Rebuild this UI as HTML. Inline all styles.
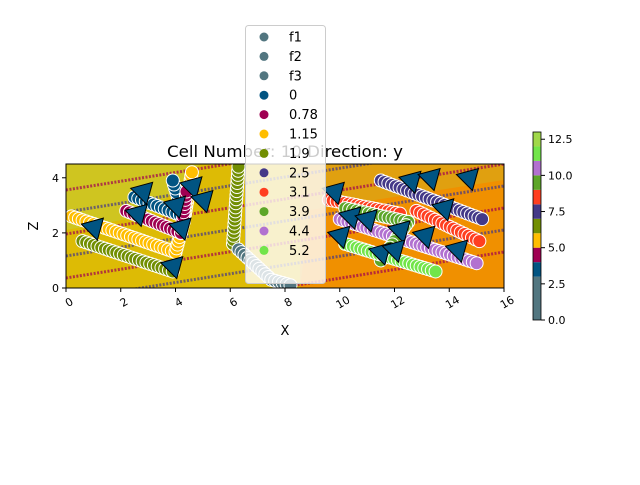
<!DOCTYPE html>
<html><head><meta charset="utf-8"><style>
body{margin:0;background:#fff}
svg{font-family:"DejaVu Sans","Liberation Sans",sans-serif}
</style></head><body>
<svg id="c" width="640" height="480" xmlns="http://www.w3.org/2000/svg">
<defs><clipPath id="clip"><rect x="66" y="164" width="438" height="124"/></clipPath></defs>
<g id="plot" clip-path="url(#clip)"></g>
<rect x="66" y="164" width="438" height="124" fill="none" stroke="#000" stroke-width="1"/>
<g id="axes"></g>
<text x="285" y="157" font-size="16" text-anchor="middle" textLength="236" lengthAdjust="spacingAndGlyphs">Cell Number: 10 Direction: y</text>
<text x="285" y="335" font-size="13" text-anchor="middle">X</text>
<text x="38" y="226" font-size="13" text-anchor="middle" transform="rotate(-90 38 226)">Z</text>
<g id="legend"></g>
<g id="cbar"></g>
</svg>
<script>
const xTicks=[0,2,4,6,8,10,12,14,16];
const yTicks=[0,2,4];
const legendLabels=["f1","f2","f3","0","0.78","1.15","1.9","2.5","3.1","3.9","4.4","5.2"];
const legendColors=["#527680","#527680","#527680","#015482","#9f0052","#ffbe00","#728f02","#443988","#ff3f20","#5da629","#b271d0","#72e54a"];
const cbarValues=[0,3,4,5,6,7,8,9,10,11,12,13];
const cbarColors=["#527680","#015482","#9f0052","#ffbe00","#728f02","#443988","#ff3f20","#5da629","#b271d0","#72e54a","#a0d84a"];
const cbarTicks=[0,2.5,5,7.5,10,12.5];
const seriesColors=["#ffbe00","#015482","#9f0052","#728f02","#728f02","#527680","#ff3f20","#ff3f20","#443988","#b271d0","#5da629","#72e54a"];
const seriesPaths=[
 [[0.2,2.6],[4,1.3],[4.3,2.4],[4.6,4.2]],
 [[2.5,3.3],[4.3,2.6],[3.9,3.9]],
 [[2.2,2.8],[4.2,2.0],[4.4,3.5]],
 [[0.6,1.7],[3.9,0.6]],
 [[6.1,1.6],[6.3,4.4]],
 [[6.3,1.4],[7.5,0.3],[8.2,0.1]],
 [[9.6,3.2],[12.2,2.7]],
 [[12.8,2.8],[15.1,1.7]],
 [[11.5,3.9],[15.2,2.5]],
 [[10.0,2.5],[15.0,0.9]],
 [[10.2,2.9],[12.5,2.4],[11.5,1.0]],
 [[10.2,1.6],[13.5,0.6]]
];
const arrowX=[1.0,2.8,3.9,4.6,5.0,4.2,2.6,9.8,10.0,12.6,13.3,14.7,13.8,12.2,10.4,11.5,12.0,13.1,14.3,11.0,4.0];
const arrowZ=[2.1,3.4,0.7,3.6,3.1,2.1,2.6,3.4,1.8,3.8,3.9,3.9,2.8,2.0,2.5,1.2,1.3,1.8,1.3,2.4,2.9];
const NS="http://www.w3.org/2000/svg";
const px=x=>66+x*438/16, py=z=>288-z*124/4.5;
function mk(t,a,p){const e=document.createElementNS(NS,t);for(const k in a)e.setAttribute(k,a[k]);(p||document.getElementById('plot')).appendChild(e);return e;}
let bg=mk('rect',{x:66,y:164,width:438,height:124,fill:'#e0a010'});
let p1=mk('polygon',{points:"66,164 300,164 300,288 66,288",fill:'#ddbb05'});
let p2=mk('polygon',{points:"66,164 200,164 150,215 66,230",fill:'#cfc520'});
let p3=mk('polygon',{points:"310,210 504,180 504,288 300,288",fill:'#f09000'});
for(let i=0;i<7;i++){const y0=190+i*22;
 let l=mk('line',{x1:66,y1:y0,x2:504,y2:y0-70,stroke:i%2?'#443988':'#9f0052','stroke-width':3,'stroke-dasharray':'2 1.5',opacity:0.7});
 }
seriesPaths.forEach((path,si)=>{
 for(let k=0;k<path.length-1;k++){const [x0,z0]=path[k],[x1,z1]=path[k+1];
  const d=Math.hypot(px(x1)-px(x0),py(z1)-py(z0));const n=Math.max(2,Math.round(d/4));
  for(let j=0;j<=n;j++){const t=j/n;
   const c=mk('circle',{cx:px(x0+(x1-x0)*t),cy:py(z0+(z1-z0)*t),r:6.5,fill:seriesColors[si],stroke:'#fff','stroke-width':1});
   }}
});
arrowX.forEach((x,i)=>{const cx=px(x),cy=py(arrowZ[i]);
 const a=mk('polygon',{points:`${cx-12},${cy-6} ${cx+10},${cy-12} ${cx+4},${cy+10}`,fill:'#015482',stroke:'#000','stroke-width':1});
 });
const ax=document.getElementById('axes');
xTicks.forEach(v=>{const x=px(v);
 const t=mk('line',{x1:x,y1:288,x2:x,y2:292,stroke:'#000'},ax);
 const l=mk('text',{x:x+3,y:306,'font-size':11,'text-anchor':'middle',transform:`rotate(-30 ${x+3} 302)`},ax);l.textContent=v;});
yTicks.forEach(v=>{const y=py(v);
 const t=mk('line',{x1:62,y1:y,x2:66,y2:y,stroke:'#000'},ax);
 const l=mk('text',{x:59,y:y+4,'font-size':11,'text-anchor':'end'},ax);l.textContent=v;});
const lg=document.getElementById('legend');
const lb=mk('rect',{x:245.5,y:25.5,width:80,height:258,rx:3,fill:'#fff','fill-opacity':0.8,stroke:'#ccc'},lg);
legendLabels.forEach((s,i)=>{const y=37+i*19.4;
 const c=mk('circle',{cx:264,cy:y,r:4.5,fill:legendColors[i]},lg);
 const t=mk('text',{x:289,y:y+4.5,'font-size':13},lg);t.textContent=s;});
const cb=document.getElementById('cbar');const cy=v=>320-v*188/13;
cbarColors.forEach((col,i)=>{const r=mk('rect',{x:533,y:cy(cbarValues[i+1]),width:8,height:cy(cbarValues[i])-cy(cbarValues[i+1]),fill:col},cb);});
const cf=mk('rect',{x:533,y:132,width:8,height:188,fill:'none',stroke:'#000','stroke-width':0.8},cb);
cbarTicks.forEach(v=>{const y=cy(v);
 const t=mk('line',{x1:541,y1:y,x2:545,y2:y,stroke:'#000'},cb);
 const l=mk('text',{x:548,y:y+4,'font-size':11},cb);l.textContent=v.toFixed(1);});
</script>
</body></html>
